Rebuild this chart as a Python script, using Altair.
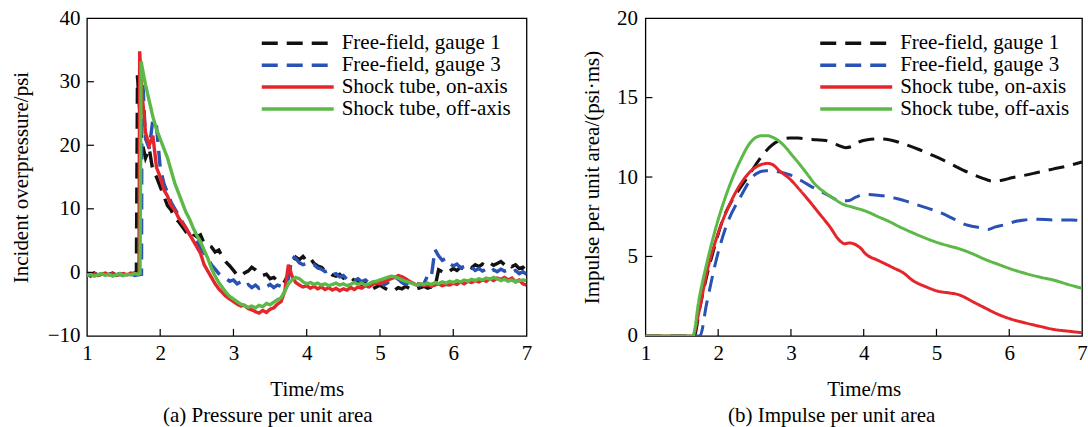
import altair as alt
import pandas as pd

FONT = "Liberation Serif"
SERIES = ["Free-field, gauge 1", "Free-field, gauge 3", "Shock tube, on-axis", "Shock tube, off-axis"]
COLORS = ["#111111", "#2a52b4", "#e4262c", "#5cb947"]
DASHES = [[16, 9], [16, 9], [1, 0], [1, 0]]

# ---------------- (a) pressure: sampled every 0.05 ms from 1.00 to 7.00 ms
t_grid = [round(1 + 0.05 * i, 2) for i in range(121)]

p_gauge1 = [
    -0.2, -0.5, -0.1, -0.4, -0.2, -0.6, -0.3, -0.1, -0.4, -0.2, -0.5, -0.2, -0.3, -0.1, 29.0, 20.5, 18.0, 19.5, 16.0, 15.0,
    13.5, 12.0, 10.5, 9.8, 8.5, 8.0, 7.2, 6.4, 6.8, 6.0, 5.6, 5.9, 4.6, 4.2, 4.0, 3.2, 3.5, 2.4, 1.6, 1.0,
    0.3, -0.4, -0.6, -0.1, 0.2, 0.8, 0.4, -0.2, -0.5, -0.3, -1.0, -0.8, -1.3, -1.0, -1.4, -0.3, 1.5, 2.4, 2.0, 2.5,
    1.8, 2.2, 1.4, 1.0, 0.8, 0.3, 0.0, -0.4, -0.6, -0.3, -0.9, -1.2, -0.8, -1.3, -1.5, -1.9, -1.7, -2.2, -2.6, -2.3,
    -2.0, -2.4, -2.7, -2.5, -2.8, -2.4, -2.6, -2.2, -2.5, -2.3, -2.6, -2.4, -2.2, -2.5, -2.3, -2.4, 0.4, 0.1, 0.5, 0.2,
    0.6, 0.3, 0.8, 0.5, 1.0, 0.7, 1.2, 0.9, 1.3, 1.0, 1.5, 1.1, 1.4, 1.7, 1.2, 1.5, 0.9, 1.2, 0.6, 0.8,
    0.2,
]
p_gauge3 = [
    -0.3, -0.6, -0.2, -0.5, -0.3, -0.7, -0.4, -0.2, -0.5, -0.3, -0.6, -0.4, -0.2, -0.5, -0.4, 26.0, 21.0, 19.5, 24.0, 23.0,
    16.5, 14.0, 12.5, 11.0, 10.0, 9.0, 8.0, 7.0, 6.0, 5.5, 4.8, 3.8, 3.0, 2.2, 1.2, 0.5, -0.2, -0.6, -1.0, -1.4,
    -1.2, -1.8, -1.5, -2.2, -1.9, -2.4, -2.0, -2.5, -2.1, -2.3, -1.9, -2.4, -2.0, -2.2, -1.6, -1.0, 2.5, 2.2, 1.5, 1.2,
    1.4, 1.0, 1.2, 0.7, 0.5, 0.1, 0.3, -0.4, -0.2, -0.7, -0.5, -1.1, -0.9, -1.3, -1.0, -1.5, -1.2, -1.6, -1.3, -1.8,
    -1.6, -2.0, -1.7, -1.2, -0.8, -1.1, -1.6, -1.9, -1.5, -2.0, -1.7, -2.1, -1.8, -0.5, -0.8, 3.6, 2.6, 1.9, 2.2, 1.4,
    1.0, 1.3, 0.7, 0.9, 0.5, 0.8, 0.3, 0.6, 0.2, 0.5, 0.0, 0.4, 0.1, 0.5, 0.2, 0.4, 0.0, 0.3, -0.2, 0.1,
    -0.3,
]
p_onaxis = [
    -0.1, -0.4, -0.2, -0.5, -0.3, -0.1, -0.4, -0.2, -0.5, -0.3, -0.2, -0.4, -0.1, -0.3, -0.2, 28.5, 22.0, 20.0, 21.5, 16.5,
    15.0, 13.0, 12.0, 10.5, 9.8, 8.6, 7.8, 7.0, 6.0, 5.0, 4.0, 3.0, 1.2, 0.2, -0.8, -1.8, -2.6, -3.2, -3.8, -4.2,
    -4.6, -5.0, -5.3, -5.2, -5.7, -5.9, -6.2, -6.4, -6.0, -6.3, -5.8, -5.6, -5.0, -4.6, -3.0, 1.2, -0.6, -1.6, -2.0, -2.3,
    -2.1, -2.5, -2.2, -2.6, -2.3, -2.7, -2.4, -2.8, -2.5, -2.9, -2.6, -2.8, -2.4, -2.7, -2.3, -2.5, -2.1, -2.3, -1.9, -1.7,
    -1.8, -1.5, -1.3, -1.0, -0.8, -0.5, -0.7, -1.0, -1.4, -1.7, -2.0, -1.8, -2.1, -1.9, -2.2, -2.0, -1.8, -2.1, -1.9, -2.0,
    -1.7, -1.9, -1.5, -1.8, -1.4, -1.6, -1.3, -1.5, -1.2, -1.4, -1.0, -1.3, -0.9, -1.1, -0.8, -1.2, -0.9, -1.5, -1.2, -1.8,
    -2.0,
]
p_offaxis = [
    -0.5, -0.3, -0.6, -0.4, -0.2, -0.5, -0.3, -0.6, -0.4, -0.2, -0.5, -0.3, -0.4, -0.2, -0.3, 32.5, 29.5, 27.0, 24.5, 22.5,
    21.0, 19.5, 18.0, 16.0, 14.0, 12.5, 11.0, 9.5, 8.4, 7.0, 5.8, 4.8, 3.5, 2.2, 0.6, -0.6, -1.6, -2.4, -3.2, -3.8,
    -4.2, -4.6, -5.0, -5.2, -5.5, -5.3, -5.6, -5.2, -5.4, -4.9, -5.1, -4.7, -4.3, -4.0, -3.0, -1.8, -1.2, -0.8, -1.0, -1.5,
    -1.8, -1.6, -1.9, -1.7, -2.0, -1.8, -2.1, -1.9, -1.7, -2.0, -1.8, -2.1, -1.9, -1.6, -1.9, -1.7, -2.0, -1.8, -1.5, -1.4,
    -1.2, -1.0, -0.8, -0.6, -0.7, -0.9, -1.2, -1.4, -1.6, -1.8, -2.0, -1.8, -1.9, -1.7, -1.9, -1.6, -1.8, -1.5, -1.7, -1.4,
    -1.6, -1.3, -1.5, -1.2, -1.4, -1.1, -1.3, -1.0, -1.2, -0.9, -1.1, -0.8, -1.0, -1.3, -1.1, -1.4, -1.2, -1.5, -1.3, -1.2,
    -1.3,
]
# extra samples on the shock fronts (time, pressure)
rise_gauge1 = [(1.675, -0.2), (1.69, 31.0)]
rise_gauge3 = [(1.745, -0.3), (1.765, 29.5)]
rise_onaxis = [(1.71, -0.1), (1.72, 34.8)]
rise_offaxis = [(1.725, -0.2), (1.74, 33.2)]

# ---------------- (b) impulse
i_gauge1_t = [1.0, 1.67, 1.75, 1.84, 1.95, 2.07, 2.2, 2.3, 2.42, 2.52, 2.63, 2.75, 2.87, 2.98, 3.1, 3.2, 3.35, 3.48, 3.62, 3.75,
              3.85, 3.93, 4.05, 4.2, 4.35, 4.57, 4.75, 4.93, 5.1, 5.25, 5.48, 5.62, 5.76, 5.9, 6.03, 6.2, 6.4, 6.6, 6.8, 7.0]
i_gauge1_v = [0, 0, 1.8, 3.7, 5.6, 7.4, 8.6, 9.3, 10.1, 10.8, 11.5, 12.05, 12.35, 12.45, 12.45, 12.4, 12.35, 12.3, 12.05, 11.85,
              11.95, 12.2, 12.35, 12.4, 12.35, 12.05, 11.75, 11.4, 11.05, 10.7, 10.2, 9.95, 9.75, 9.8, 9.95, 10.1, 10.3, 10.5, 10.7, 10.95]
i_gauge3_t = [1.0, 1.75, 1.84, 1.98, 2.11, 2.3, 2.52, 2.66, 2.8, 2.98, 3.15, 3.3, 3.45, 3.57, 3.68, 3.78, 3.9, 4.03, 4.2, 4.3,
              4.45, 4.57, 4.8, 5.03, 5.2, 5.4, 5.55, 5.71, 5.8, 5.94, 6.08, 6.21, 6.4, 6.6, 6.85, 7.0]
i_gauge3_v = [0, 0, 2.0, 4.9, 6.9, 8.7, 10.2, 10.4, 10.35, 10.15, 9.75, 9.35, 9.0, 8.7, 8.5, 8.5, 8.75, 8.9, 8.85, 8.8,
              8.65, 8.5, 8.15, 7.8, 7.45, 7.0, 6.85, 6.7, 6.85, 7.0, 7.2, 7.3, 7.35, 7.3, 7.3, 7.25]
i_onaxis_t = [1.0, 1.65, 1.74, 1.84, 1.98, 2.16, 2.3, 2.48, 2.6, 2.68, 2.76, 2.84, 2.98, 3.12, 3.25, 3.39, 3.53, 3.67, 3.74, 3.8,
              3.86, 3.95, 4.03, 4.2, 4.4, 4.55, 4.67, 4.85, 5.03, 5.18, 5.3, 5.4, 5.48, 5.65, 5.85, 6.03, 6.21, 6.42, 6.62, 6.8, 7.0]
i_onaxis_v = [0, 0, 1.6, 3.9, 6.2, 8.3, 9.5, 10.5, 10.8, 10.86, 10.75, 10.4, 9.9, 9.2, 8.5, 7.7, 6.9, 6.0, 5.8, 5.85,
              5.8, 5.55, 5.15, 4.75, 4.3, 3.95, 3.5, 3.1, 2.8, 2.7, 2.6, 2.4, 2.2, 1.8, 1.35, 1.05, 0.83, 0.6, 0.4, 0.3, 0.2]
i_offaxis_t = [1.0, 1.65, 1.74, 1.84, 1.98, 2.16, 2.3, 2.44, 2.52, 2.6, 2.68, 2.75, 2.84, 2.93, 3.02, 3.12, 3.23, 3.34, 3.46, 3.57,
               3.71, 3.85, 4.03, 4.2, 4.35, 4.5, 4.67, 4.85, 5.03, 5.18, 5.3, 5.48, 5.65, 5.85, 6.03, 6.21, 6.42, 6.62, 6.8, 7.0]
i_offaxis_v = [0, 0, 2.4, 4.5, 7.0, 9.5, 11.0, 12.16, 12.5, 12.6, 12.6, 12.5, 12.25, 11.85, 11.35, 10.8, 10.15, 9.5, 9.05, 8.7,
               8.3, 8.1, 7.85, 7.5, 7.2, 6.85, 6.5, 6.15, 5.85, 5.65, 5.5, 5.2, 4.85, 4.5, 4.2, 3.95, 3.7, 3.5, 3.25, 3.0]

x_ticks = [1, 2, 3, 4, 5, 6, 7]
x_inner = [2, 3, 4, 5, 6]
p_ticks = [-10, 0, 10, 20, 30, 40]
p_inner = [0, 10, 20, 30]
i_ticks = [0, 5, 10, 15, 20]
i_inner = [5, 10, 15]

# ---------------- tables
rows = []
for name, vals, extra in zip(SERIES, [p_gauge1, p_gauge3, p_onaxis, p_offaxis],
                             [rise_gauge1, rise_gauge3, rise_onaxis, rise_offaxis]):
    assert len(vals) == len(t_grid)
    pts = list(zip(t_grid, vals)) + extra
    pts.sort(key=lambda p: p[0])
    rows += [{"t": a, "v": b, "series": name} for a, b in pts]
df_p = pd.DataFrame(rows)

rows = []
for name, tt, vv in zip(SERIES, [i_gauge1_t, i_gauge3_t, i_onaxis_t, i_offaxis_t],
                        [i_gauge1_v, i_gauge3_v, i_onaxis_v, i_offaxis_v]):
    assert len(tt) == len(vv)
    rows += [{"t": a, "v": b, "series": name} for a, b in zip(tt, vv)]
df_i = pd.DataFrame(rows)

H = 318


def panel(df, ydom, yvals, yinner, ytitle, caption, width, lab_pad, title_pad, interp, cap_dx, sw):
    x_enc = alt.X("t:Q", scale=alt.Scale(domain=[1, 7], nice=False, zero=False),
                  axis=alt.Axis(values=x_ticks, title="Time/ms", labelPadding=7, titlePadding=15,
                                labelFlush=False, labelOverlap=False))
    y_enc = alt.Y("v:Q", scale=alt.Scale(domain=ydom, nice=False, zero=False),
                  axis=alt.Axis(values=yvals, title=ytitle, labelPadding=lab_pad, titlePadding=title_pad,
                                labelOverlap=False))
    leg = alt.Legend(title=None, orient="none", legendX=173, legendY=14, labelFont=FONT, labelFontSize=21,
                     labelColor="black", symbolType="stroke", symbolSize=5184, symbolStrokeWidth=3.5,
                     labelOffset=6, rowPadding=0, clipHeight=22, padding=0, labelLimit=400)
    lines = alt.Chart(df).mark_line(strokeWidth=sw, interpolate=interp, clip=True).encode(
        x=x_enc, y=y_enc,
        color=alt.Color("series:N", scale=alt.Scale(domain=SERIES, range=COLORS), legend=leg),
        strokeDash=alt.StrokeDash("series:N", scale=alt.Scale(domain=SERIES, range=DASHES), legend=leg),
    )
    xt = alt.Chart(pd.DataFrame({"t": x_inner})).mark_rule(color="black", strokeWidth=1.2).encode(
        x=x_enc, y=alt.value(H), y2=alt.value(H - 7))
    yt = alt.Chart(pd.DataFrame({"v": yinner})).mark_rule(color="black", strokeWidth=1.2).encode(
        y=y_enc, x=alt.value(0), x2=alt.value(7))
    return alt.layer(lines, xt, yt).properties(
        width=width, height=H,
        title=alt.TitleParams(caption, orient="bottom", anchor="middle", offset=5, dx=cap_dx))


left = panel(df_p, [-10, 40], p_ticks, p_inner, "Incident overpressure/psi", "(a) Pressure per unit area",
             440, 7, 16, "linear", -39, 3.4)
right = panel(df_i, [0, 20], i_ticks, i_inner, "Impulse per unit area/(psi·ms)", "(b) Impulse per unit area",
              437, 8, 14, "monotone", -32, 3)

chart = alt.hconcat(left, right, spacing=48).resolve_scale(
    color="independent", strokeDash="independent").resolve_legend(
    color="independent", strokeDash="independent").properties(
    padding={"left": 9, "top": 6, "right": 0, "bottom": 0},
    background="white",
).configure_view(stroke="black", strokeWidth=1.3).configure_axis(
    labelFont=FONT, labelFontSize=21, labelColor="black",
    titleFont=FONT, titleFontSize=21, titleFontWeight="normal", titleColor="black",
    grid=False, domain=False, ticks=False, tickSize=0,
).configure_title(font=FONT, fontSize=21, fontWeight="normal", color="black")

chart.save("out.html", embed_options={"renderer": "svg", "actions": False})
